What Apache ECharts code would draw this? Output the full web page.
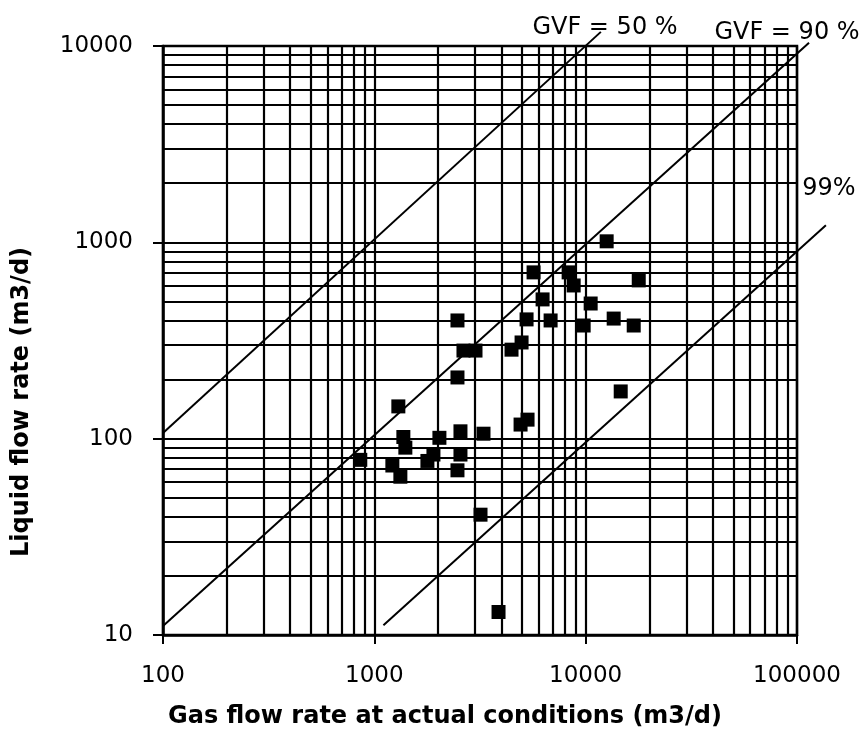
<!DOCTYPE html>
<html>
<head>
<meta charset="utf-8">
<script src="https://cdn.jsdelivr.net/npm/echarts@6/dist/echarts.min.js"></script>
<style>
  html, body { margin: 0; padding: 0; background: #fff; }
  #chart { width: 868px; height: 744px; }
</style>
</head>
<body>
<div id="chart"></div>
<script>
// ---- data ----
const xTicks = [100, 1000, 10000, 100000];
const yTicks = [10, 100, 1000, 10000];

const gasFlow = [858, 1299, 1372, 1402, 1217, 1328, 1783, 1904, 2032, 2556, 3285, 2556, 2474, 3180, 3870,
  2474, 2474, 2641, 3011, 4458, 4974, 4920, 5309, 5252, 5669, 6254, 6825, 8306, 8775, 9784, 10560,
  12570, 13570, 14650, 16880, 17830];
const liquidFlow = [78, 146, 102, 90, 73, 64, 77, 83, 101, 109, 106, 83, 69, 41, 13.1,
  205, 400, 281, 281, 284, 309, 118, 125, 405, 703, 512, 400, 703, 603, 377, 488,
  1012, 409, 174, 377, 640];

// GVF reference lines (end points as drawn)
const gvf50Gas = [100, 11800];
const gvf50Liq = [107, 11800];
const gvf90Gas = [100, 114000];
const gvf90Liq = [11.1, 10400];
const gvf99Gas = [1104, 137000];
const gvf99Liq = [11.2, 1222];

const gvfLabels = ['GVF = 50 %', 'GVF = 90 %', '99%'];

const xTitle = 'Gas flow rate at actual conditions (m3/d)';
const yTitle = 'Liquid flow rate (m3/d)';

// ---- build ----
function logGridValues(ticks) {
  const out = [];
  for (let i = 0; i < ticks.length - 1; i++) {
    for (let m = 1; m <= 9; m++) out.push(ticks[i] * m);
  }
  out.push(ticks[ticks.length - 1]);
  return out;
}
const xGrid = logGridValues(xTicks);
const yGrid = logGridValues(yTicks);

const zip = (a, b) => a.map((v, i) => [v, b[i]]);
const FONT = 'DejaVu Sans';

// layout
const G = { left: 163, top: 46, bottom: 109, width: 634 };
const xDecades = Math.log10(xTicks[xTicks.length - 1] / xTicks[0]);
const xMaxExt = Math.pow(10, 5.15); // slightly wider hidden axis so reference lines may run past the frame
const extWidth = G.width * Math.log10(xMaxExt / xTicks[0]) / xDecades;

const chart = echarts.init(document.getElementById('chart'), null, { renderer: 'canvas' });

const lineStyleDiag = { color: '#000', width: 2 };
const fmt = v => String(Math.round(v));

chart.setOption({
  animation: false,
  backgroundColor: '#fff',
  grid: [
    { left: G.left, top: G.top, bottom: G.bottom, width: G.width, show: true, borderColor: '#000', borderWidth: 2.5, backgroundColor: '#fff' },
    { left: G.left, top: G.top, bottom: G.bottom, width: extWidth, show: false }
  ],
  xAxis: [{
    type: 'log', logBase: 10, min: xTicks[0], max: xTicks[xTicks.length - 1], gridIndex: 0,
    axisLine: { show: true, lineStyle: { color: '#000', width: 2.5 } },
    axisTick: { show: true, length: 9, inside: false, lineStyle: { color: '#000', width: 2 } },
    axisLabel: { margin: 30, fontFamily: FONT, fontSize: 23, color: '#000', formatter: fmt },
    splitLine: { show: false }
  }, {
    type: 'log', logBase: 10, min: xTicks[0], max: xMaxExt, gridIndex: 1, show: false,
    splitLine: { show: false }
  }],
  yAxis: [{
    type: 'log', logBase: 10, min: yTicks[0], max: yTicks[yTicks.length - 1], gridIndex: 0,
    axisLine: { show: true, lineStyle: { color: '#000', width: 2.5 } },
    axisTick: { show: true, length: 10, inside: false, lineStyle: { color: '#000', width: 2 } },
    axisLabel: { margin: 30, fontFamily: FONT, fontSize: 23, color: '#000', formatter: fmt },
    splitLine: { show: false }
  }, {
    type: 'log', logBase: 10, min: yTicks[0], max: yTicks[yTicks.length - 1], gridIndex: 1, show: false,
    splitLine: { show: false }
  }],
  graphic: [
    { type: 'text', x: 22, y: 402, rotation: Math.PI / 2, z: 10,
      style: { text: yTitle, font: 'bold 24px "DejaVu Sans"', fill: '#000', align: 'center', verticalAlign: 'middle' } },
    { type: 'text', x: 445, y: 717, z: 10,
      style: { text: xTitle, font: 'bold 24px "DejaVu Sans"', fill: '#000', align: 'center', verticalAlign: 'middle' } },
    { type: 'text', x: 605, y: 28, z: 10,
      style: { text: gvfLabels[0], font: '24px "DejaVu Sans"', fill: '#000', align: 'center', verticalAlign: 'middle' } },
    { type: 'text', x: 787, y: 33, z: 10,
      style: { text: gvfLabels[1], font: '24px "DejaVu Sans"', fill: '#000', align: 'center', verticalAlign: 'middle' } },
    { type: 'text', x: 829, y: 189, z: 10,
      style: { text: gvfLabels[2], font: '24px "DejaVu Sans"', fill: '#000', align: 'center', verticalAlign: 'middle' } }
  ],
  series: [
    {
      type: 'line', data: [], z: 1, silent: true, xAxisIndex: 0, yAxisIndex: 0,
      markLine: {
        silent: true, symbol: ['none', 'none'], animation: false,
        label: { show: false },
        lineStyle: { color: '#000', width: 2.2, type: 'solid' },
        data: xGrid.map(v => ({ xAxis: v })).concat(yGrid.map(v => ({ yAxis: v })))
      }
    },
    { type: 'line', xAxisIndex: 1, yAxisIndex: 1, data: zip(gvf50Gas, gvf50Liq), clip: false, symbol: 'none', lineStyle: lineStyleDiag, z: 3 },
    { type: 'line', xAxisIndex: 1, yAxisIndex: 1, data: zip(gvf90Gas, gvf90Liq), clip: false, symbol: 'none', lineStyle: lineStyleDiag, z: 3 },
    { type: 'line', xAxisIndex: 1, yAxisIndex: 1, data: zip(gvf99Gas, gvf99Liq), clip: false, symbol: 'none', lineStyle: lineStyleDiag, z: 3 },
    {
      type: 'scatter', xAxisIndex: 0, yAxisIndex: 0, data: zip(gasFlow, liquidFlow), symbol: 'rect', symbolSize: 14,
      itemStyle: { color: '#000', opacity: 1 }, z: 5
    }
  ]
});
</script>
</body>
</html>
